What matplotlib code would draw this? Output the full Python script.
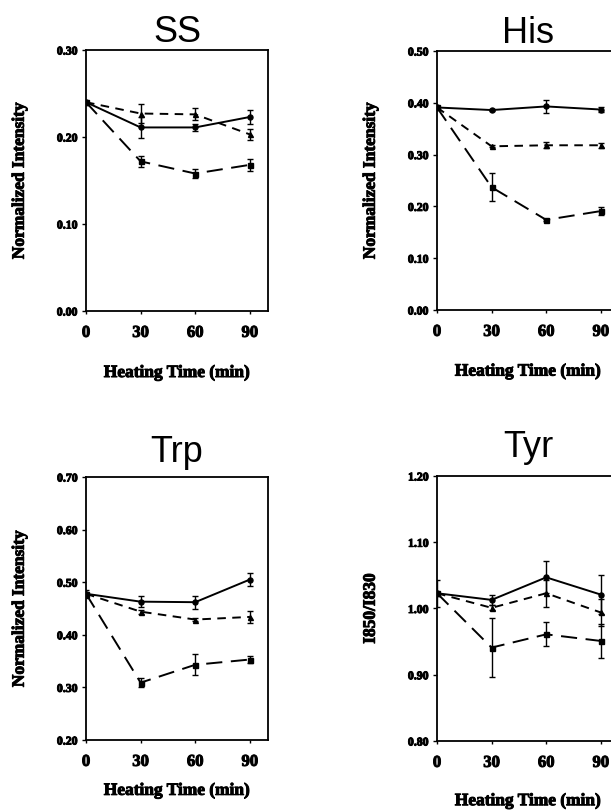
import matplotlib
matplotlib.use('Agg')
import matplotlib.pyplot as plt
import matplotlib.patheffects as pe

# heating time points (min)
tiempo = [0, 30, 60, 90]

# SS band
ss_a = [0.240, 0.211, 0.211, 0.223]
ss_a_err = [0.0, 0.012, 0.004, 0.008]
ss_b = [0.240, 0.227, 0.226, 0.203]
ss_b_err = [0.0, 0.011, 0.007, 0.006]
ss_c = [0.240, 0.172, 0.158, 0.168]
ss_c_err = [0.0, 0.006, 0.005, 0.007]

# His band
his_a = [0.391, 0.386, 0.393, 0.387]
his_a_err = [0.0, 0.002, 0.012, 0.005]
his_b = [0.391, 0.316, 0.318, 0.318]
his_b_err = [0.0, 0.002, 0.006, 0.005]
his_c = [0.391, 0.237, 0.174, 0.191]
his_c_err = [0.0, 0.027, 0.002, 0.007]

# Trp band
trp_a = [0.478, 0.463, 0.462, 0.505]
trp_a_err = [0.008, 0.010, 0.012, 0.013]
trp_b = [0.478, 0.444, 0.429, 0.434]
trp_b_err = [0.0, 0.004, 0.002, 0.012]
trp_c = [0.478, 0.309, 0.343, 0.353]
trp_c_err = [0.0, 0.008, 0.020, 0.006]

# Tyr doublet ratio
tyr_a = [1.023, 1.013, 1.047, 1.021]
tyr_a_err = [0.020, 0.008, 0.024, 0.030]
tyr_b = [1.023, 1.001, 1.023, 0.994]
tyr_b_err = [0.0, 0.004, 0.020, 0.020]
tyr_c = [1.023, 0.941, 0.961, 0.951]
tyr_c_err = [0.0, 0.044, 0.018, 0.025]

titulos = ['SS', 'His', 'Trp', 'Tyr']
ylabels = ['Normalized Intensity', 'Normalized Intensity',
           'Normalized Intensity', 'I850/I830']
ylims = [(0.0, 0.30), (0.0, 0.50), (0.20, 0.70), (0.80, 1.20)]
yticks = [[0.0, 0.10, 0.20, 0.30],
          [0.0, 0.10, 0.20, 0.30, 0.40, 0.50],
          [0.20, 0.30, 0.40, 0.50, 0.60, 0.70],
          [0.80, 0.90, 1.00, 1.10, 1.20]]

datos = [
    [(ss_a, ss_a_err), (ss_b, ss_b_err), (ss_c, ss_c_err)],
    [(his_a, his_a_err), (his_b, his_b_err), (his_c, his_c_err)],
    [(trp_a, trp_a_err), (trp_b, trp_b_err), (trp_c, trp_c_err)],
    [(tyr_a, tyr_a_err), (tyr_b, tyr_b_err), (tyr_c, tyr_c_err)],
]

estilos = ['-', (0, (4.4, 3.3)), (0, (8.3, 4.4))]
marcas = ['o', '^', 's']

W, H = 611, 810
fig = plt.figure(figsize=(W / 100, H / 100), dpi=100)

# axes boxes in pixels: left, top, right, bottom
cajas = [(86, 50, 268, 311), (437, 51, 619, 310),
         (86, 477, 268, 740), (437, 476, 619, 741)]
pads = [5.8, 5.8, 10.8, 14]
xlab_y = [-0.207, -0.207, -0.163, -0.197]

serif = 'Liberation Serif'
grueso = [pe.withStroke(linewidth=0.7, foreground='black')]

for i in range(4):
    l, t, r, b = cajas[i]
    ax = fig.add_axes([l / W, 1 - b / H, (r - l) / W, (b - t) / H])
    for j, (vals, err) in enumerate(datos[i]):
        ax.errorbar(tiempo, vals, yerr=err, color='black', lw=1.4,
                    linestyle=estilos[j], marker=marcas[j], markersize=3.6,
                    elinewidth=1.0, capsize=2, capthick=1.0)
    ax.set_xlim(0, 100)
    ax.set_ylim(*ylims[i])
    ax.set_xticks(tiempo)
    ax.set_yticks(yticks[i])
    ax.set_xticklabels([str(v) for v in tiempo], fontfamily=serif,
                       fontweight='bold', fontsize=12)
    ax.set_yticklabels(['%.2f' % v for v in yticks[i]], fontfamily=serif,
                       fontweight='bold', fontsize=8.5)
    for lab in ax.get_xticklabels() + ax.get_yticklabels():
        lab.set_path_effects(grueso)
    ax.tick_params(axis='x', direction='out', length=2, width=1, pad=8)
    ax.tick_params(axis='y', direction='out', length=3, width=1, pad=3)
    for s in ax.spines.values():
        s.set_linewidth(1.3)
    ax.set_title(titulos[i], fontfamily='Liberation Sans', fontsize=26,
                 pad=pads[i])
    ax.set_ylabel(ylabels[i], fontfamily=serif, fontweight='bold',
                  fontsize=12.5, path_effects=grueso)
    ax.yaxis.set_label_coords(-0.32, 0.5)
    ax.set_xlabel('Heating Time (min)', fontfamily=serif, fontweight='bold',
                  fontsize=12.5, path_effects=grueso)
    ax.xaxis.set_label_coords(0.5, xlab_y[i])
    ax.xaxis.label.set_va('top')

fig.savefig('out.png', dpi=100)
